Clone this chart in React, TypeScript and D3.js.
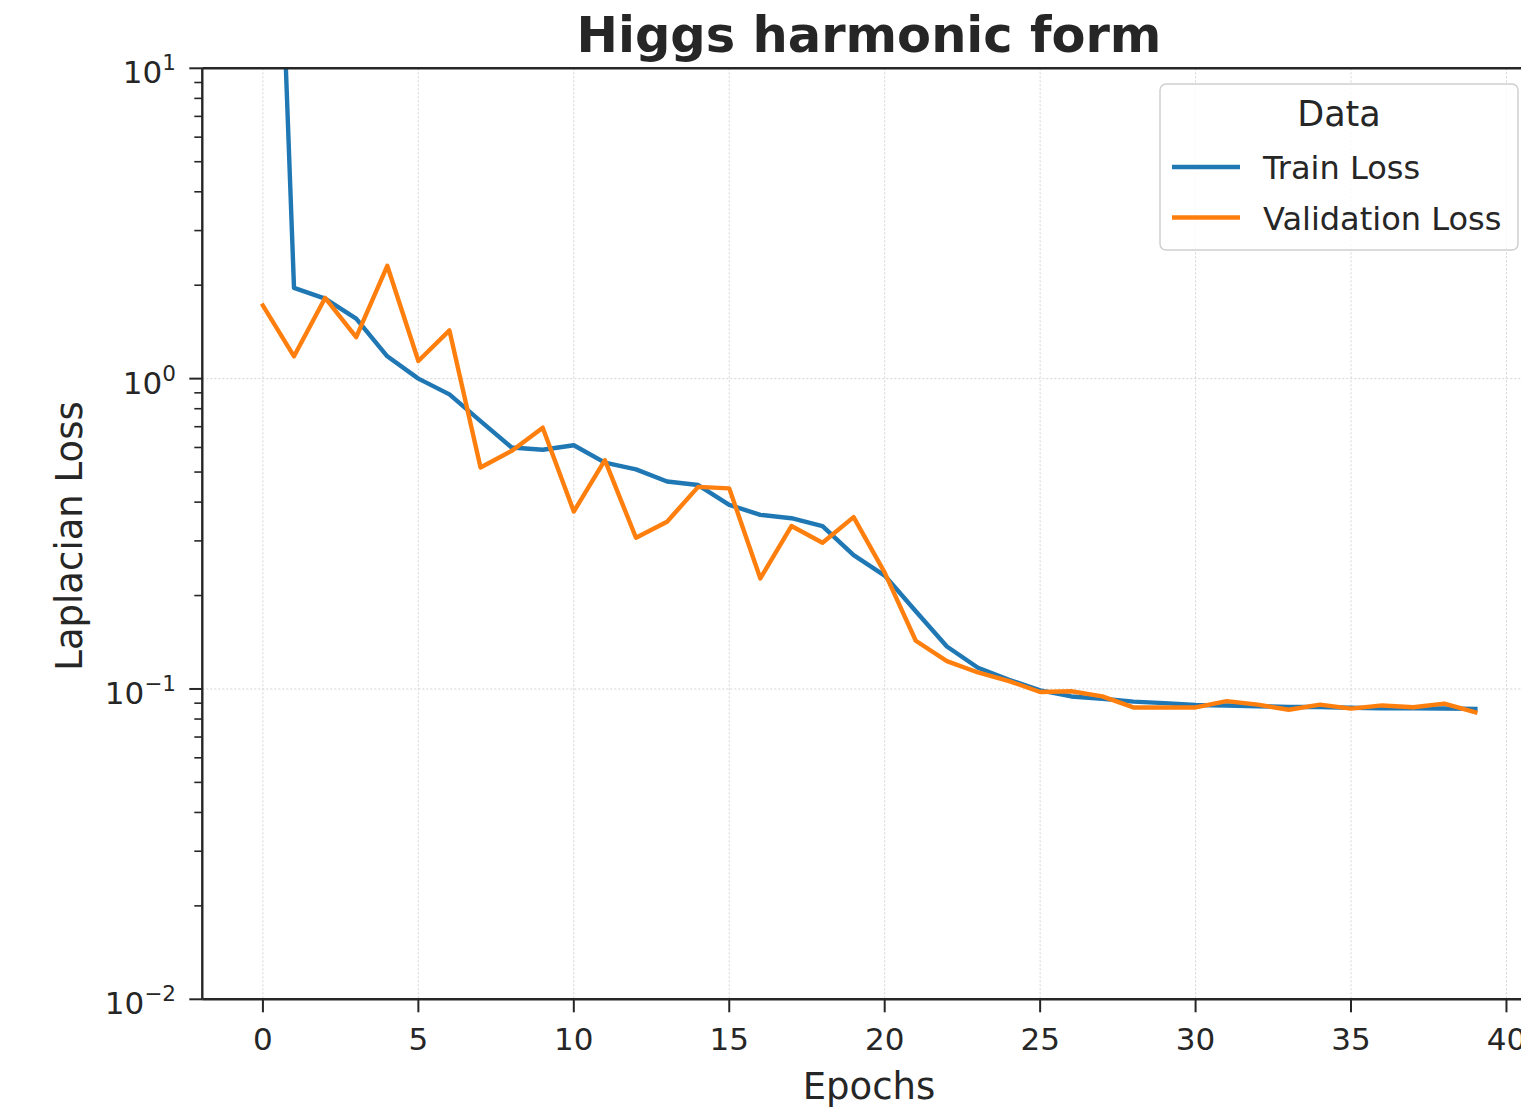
import React from 'react';
import * as d3 from 'd3';

// epochs 0..39
const epochs = d3.range(0, 40);

const trainLoss = [
  1000, 1.96, 1.81, 1.56, 1.18, 1.0, 0.89, 0.73, 0.6, 0.59,
  0.61, 0.536, 0.51, 0.466, 0.454, 0.392, 0.364, 0.355, 0.335, 0.27,
  0.232, 0.178, 0.137, 0.117, 0.107, 0.099, 0.0946, 0.093, 0.091, 0.09,
  0.0888, 0.0885, 0.088, 0.0875, 0.0875, 0.087, 0.0866, 0.0866, 0.0865, 0.0863,
];

const valLoss = [
  1.72, 1.18, 1.82, 1.36, 2.31, 1.14, 1.43, 0.517, 0.585, 0.695,
  0.373, 0.546, 0.307, 0.346, 0.448, 0.443, 0.227, 0.335, 0.296, 0.358,
  0.237, 0.143, 0.123, 0.113, 0.106, 0.0978, 0.0983, 0.0946, 0.0872, 0.0872,
  0.0872, 0.0914, 0.089, 0.0857, 0.089, 0.0864, 0.0885, 0.0873, 0.0897, 0.0841,
];

const xTicks = [0, 5, 10, 15, 20, 25, 30, 35, 40];
const yMajor = [0.01, 0.1, 1, 10];
const yExp = ['\u22122', '\u22121', '0', '1'];

const seriesNames = ['Train Loss', 'Validation Loss'];
const seriesColors = ['#1f77b4', '#ff7f0e'];

const W = 1521;
const H = 1113;
const left = 202.3, top = 68.3, bottom = 999.3, right = 1536;
const font = 'DejaVu Sans, sans-serif';
const ink = '#262626';

export default function App() {
  const x = d3.scaleLinear().domain([-1.95, 40.95]).range([left, right]);
  const y = d3.scaleLog().domain([0.01, 10]).range([bottom, top]);

  const minor: number[] = [];
  [0.01, 0.1, 1].forEach(d => {
    for (let k = 2; k <= 9; k++) minor.push(d * k);
  });

  const mkLine = d3.line<number>()
    .x((_, i) => x(epochs[i]))
    .y(v => y(v));

  const series = [trainLoss, valLoss];

  return (
    <svg width={W} height={H} style={{ position: 'absolute', left: 0, top: 0, background: '#fff' }}
      fontFamily={font}>
      <defs>
        <clipPath id="plot">
          <rect x={left} y={top} width={right - left} height={bottom - top} />
        </clipPath>
      </defs>

      {/* grid */}
      {xTicks.map(t => (
        <line key={'gx' + t} x1={x(t)} x2={x(t)} y1={top} y2={bottom}
          stroke="#d4d4d4" strokeWidth={1} strokeDasharray="2,2" />
      ))}
      {yMajor.map(t => (
        <line key={'gy' + t} x1={left} x2={right} y1={y(t)} y2={y(t)}
          stroke="#d4d4d4" strokeWidth={1} strokeDasharray="2,2" />
      ))}

      {/* series */}
      <g clipPath="url(#plot)">
        {series.map((s, i) => (
          <path key={i} d={mkLine(s) || ''} fill="none" stroke={seriesColors[i]}
            strokeWidth={4.4} strokeLinejoin="round" strokeLinecap="square" />
        ))}
      </g>

      {/* spines */}
      <line x1={left} x2={left} y1={top} y2={bottom} stroke={ink} strokeWidth={2.4} />
      <line x1={left} x2={right} y1={bottom} y2={bottom} stroke={ink} strokeWidth={2.4} />
      <line x1={left} x2={right} y1={top} y2={top} stroke={ink} strokeWidth={2.4} />
      <line x1={right} x2={right} y1={top} y2={bottom} stroke={ink} strokeWidth={2.4} />

      {/* x ticks */}
      {xTicks.map(t => (
        <g key={'xt' + t}>
          <line x1={x(t)} x2={x(t)} y1={bottom} y2={bottom + 13} stroke={ink} strokeWidth={2} />
          <text x={x(t)} y={1050} textAnchor="middle" fontSize={31} fill={ink}>{t}</text>
        </g>
      ))}

      {/* y ticks */}
      {minor.map(t => (
        <line key={'ym' + t} x1={left - 8} x2={left} y1={y(t)} y2={y(t)} stroke={ink} strokeWidth={1.6} />
      ))}
      {yMajor.map((t, i) => (
        <g key={'yt' + t}>
          <line x1={left - 13} x2={left} y1={y(t)} y2={y(t)} stroke={ink} strokeWidth={2} />
          <text x={176} y={y(t) + 15} textAnchor="end" fontSize={31} fill={ink}>
            10<tspan dy={-13} fontSize={21.5}>{yExp[i]}</tspan>
          </text>
        </g>
      ))}

      {/* labels */}
      <text x={869} y={52} textAnchor="middle" fontSize={49.5} fontWeight="bold" fill={ink}>
        Higgs harmonic form
      </text>
      <text x={869} y={1099} textAnchor="middle" fontSize={37} fill={ink}>Epochs</text>
      <text transform="translate(82,536) rotate(-90)" textAnchor="middle" fontSize={37} fill={ink}>
        Laplacian Loss
      </text>

      {/* legend */}
      <g>
        <rect x={1160} y={84} width={358} height={166} rx={6} fill="#fff" fillOpacity={0.8}
          stroke="#d0d0d0" strokeWidth={1.5} />
        <text x={1339} y={126} textAnchor="middle" fontSize={35} fill={ink}>Data</text>
        {seriesNames.map((n, i) => (
          <g key={n}>
            <line x1={1172} x2={1240} y1={167 + i * 50.5} y2={167 + i * 50.5}
              stroke={seriesColors[i]} strokeWidth={4.4} />
            <text x={1263} y={179 + i * 50.5} fontSize={32} fill={ink}>{n}</text>
          </g>
        ))}
      </g>
    </svg>
  );
}
